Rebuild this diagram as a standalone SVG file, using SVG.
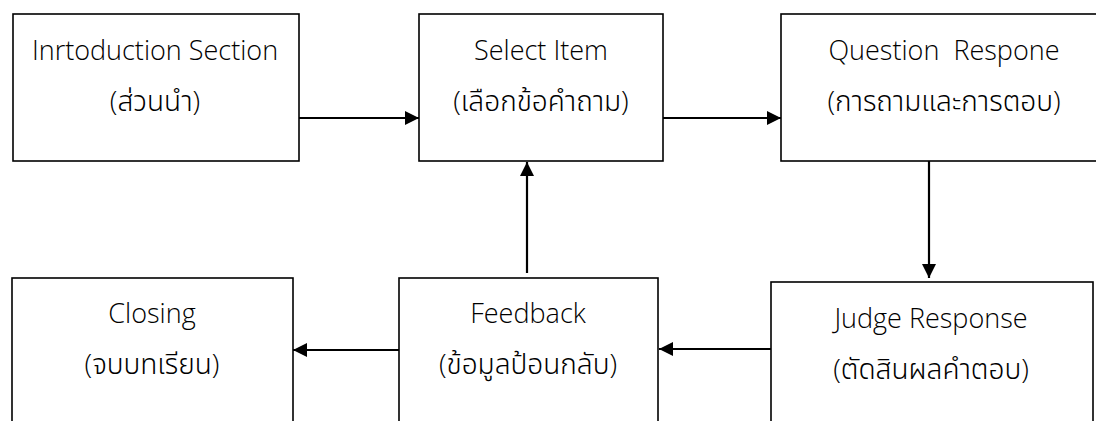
<svg xmlns="http://www.w3.org/2000/svg" width="1096" height="421" viewBox="0 0 1096 421">
  <style>
    .box { fill: #ffffff; stroke: #000000; stroke-width: 1.6; }
    .lbl { font-family: "Open Sans", "Noto Sans", "DejaVu Sans", sans-serif; font-size: 27px; font-weight: 300; fill: #000000; text-anchor: middle; }
    .th { font-family: "Open Sans", "Noto Sans Thai", "Noto Sans", "DejaVu Sans", sans-serif; font-size: 28px; }
    .conn { stroke: #000000; stroke-width: 2.2; fill: none; marker-end: url(#head); }
  </style>
  <defs>
    <marker id="head" viewBox="0 0 10 10" refX="10" refY="5" markerUnits="userSpaceOnUse" markerWidth="15" markerHeight="14" orient="auto">
      <path d="M0,0 L10,5 L0,10 z" fill="#000000"/>
    </marker>
  </defs>
  <rect width="1096" height="421" fill="#ffffff"/>

  <g id="intro">
    <rect class="box" x="13" y="14" width="286" height="147"/>
    <text class="lbl" x="155" y="60">Inrtoduction Section</text>
    <text class="lbl th" x="155" y="111">(ส่วนนำ)</text>
  </g>

  <g id="select-item">
    <rect class="box" x="419" y="14" width="244" height="147"/>
    <text class="lbl" x="541" y="60">Select Item</text>
    <text class="lbl th" x="541" y="111">(เลือกข้อคำถาม)</text>
  </g>

  <g id="question-response">
    <rect class="box" x="781" y="14" width="330" height="147"/>
    <text class="lbl" x="944" y="60" xml:space="preserve">Question  Respone</text>
    <text class="lbl th" x="944" y="111">(การถามและการตอบ)</text>
  </g>

  <g id="judge-response">
    <rect class="box" x="771" y="282" width="322" height="160"/>
    <text class="lbl" x="931" y="328">Judge Response</text>
    <text class="lbl th" x="931" y="379">(ตัดสินผลคำตอบ)</text>
  </g>

  <g id="feedback">
    <rect class="box" x="399" y="278" width="259" height="160"/>
    <text class="lbl" x="528" y="323">Feedback</text>
    <text class="lbl th" x="528" y="374">(ข้อมูลป้อนกลับ)</text>
  </g>

  <g id="closing">
    <rect class="box" x="12" y="278" width="281" height="160"/>
    <text class="lbl" x="152" y="323">Closing</text>
    <text class="lbl th" x="152" y="374">(จบบทเรียน)</text>
  </g>

  <g id="connectors">
    <line class="conn" x1="299" y1="118" x2="419" y2="118"/>
    <line class="conn" x1="663" y1="118" x2="781" y2="118"/>
    <line class="conn" x1="929" y1="161" x2="929" y2="278"/>
    <line class="conn" x1="771" y1="349" x2="659" y2="349"/>
    <line class="conn" x1="399" y1="350" x2="293" y2="350"/>
    <line class="conn" x1="527" y1="273" x2="527" y2="162"/>
  </g>
</svg>
